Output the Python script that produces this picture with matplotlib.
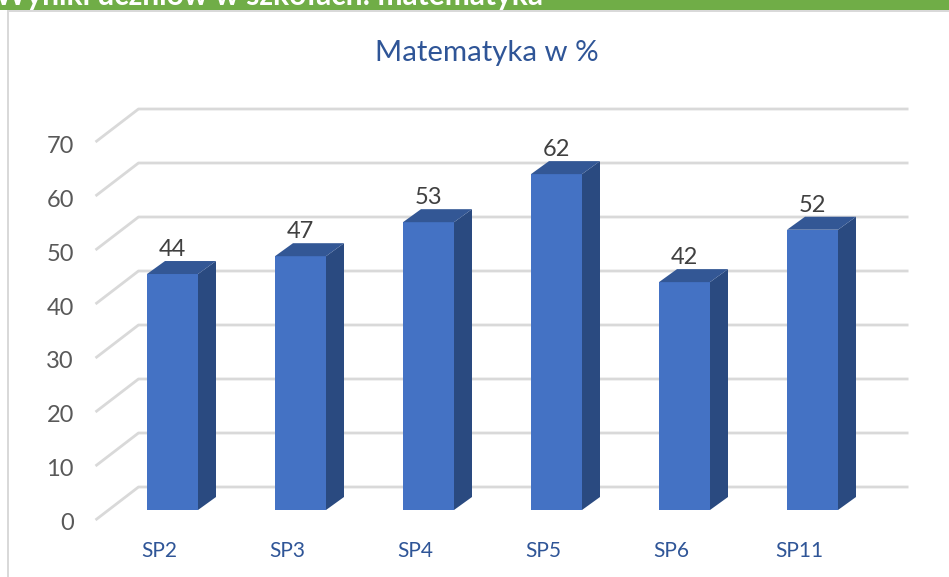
import matplotlib
matplotlib.use("Agg")
import matplotlib.pyplot as plt
from matplotlib.patches import Polygon, Rectangle

plt.rcParams['font.family'] = ['Lato', 'DejaVu Sans']

categories = ["SP2", "SP3", "SP4", "SP5", "SP6", "SP11"]
values = [43.7, 47.0, 53.3, 62.2, 42.2, 51.9]
grid_values = [0, 10, 20, 30, 40, 50, 60, 70]
title = "Matematyka w %"
banner = "Wyniki uczniów w szkołach: matematyka"

# one pixel-sized axes, x in category steps, y in percent at the bar front
W, H = 949, 577
fig = plt.figure(figsize=(W / 100, H / 100), dpi=100)
ax = fig.add_axes([0, 0, 1, 1])
step = 128.0
unit = 5.4
ax.set_xlim(-172.5 / step, (W - 172.5) / step)
ax.set_ylim((510 - H) / unit, 510 / unit)
ax.axis("off")

bar_w = 51 / step
dx, dy = 18 / step, 13 / unit

# gridlines with the slanted part on the left side wall
for g in grid_values:
    ax.plot([-77 / step, -34 / step, 736 / step],
            [g - 10 / unit, g + 23 / unit, g + 23 / unit],
            color="#d9d9d9", lw=2, zorder=1, solid_capstyle="butt")
    ax.text(-98.5 / step, g * 0.995 - 13 / unit, str(g), ha="right", va="center",
            fontsize=17, color="#595959")

# bars: front, side and top faces
for i, v in enumerate(values):
    x0, x1 = i - bar_w / 2, i + bar_w / 2
    ax.bar(i, v, width=bar_w, color="#4472c4", zorder=3)
    ax.add_patch(Polygon([(x1, 0), (x1 + dx, dy), (x1 + dx, v + dy), (x1, v)],
                         color="#2a4a80", lw=0, zorder=3))
    ax.add_patch(Polygon([(x0, v), (x0 + dx, v + dy), (x1 + dx, v + dy), (x1, v)],
                         color="#335795", lw=0, zorder=3))
    ax.text(i, v + dy + 11.5 / unit, str(round(v)), ha="center", va="center",
            fontsize=17, color="#404040", zorder=4)
    ax.text(i - 13 / step, -41 / unit, categories[i], ha="center", va="center",
            fontsize=15, color="#2f5597")

ax.text(314 / step, 457 / unit, title, ha="center", va="center",
        fontsize=21.2, color="#2f5597")

# page furniture: green band cut by the crop, thin frame under it
fig.patches.append(Rectangle((0, 1 - 10 / H), 1, 10 / H, transform=fig.transFigure,
                             color="#70ad47", lw=0, zorder=5))
fig.patches.append(Rectangle((7 / W, 0), 2 / W, 1 - 10 / H, transform=fig.transFigure,
                             color="#d9d9d9", lw=0, zorder=5))
fig.patches.append(Rectangle((7 / W, 1 - 12 / H), 1 - 7 / W, 2 / H, transform=fig.transFigure,
                             color="#d9d9d9", lw=0, zorder=5))
fig.text(-5 / W, 1 - 5 / H, banner, ha="left", va="baseline", fontsize=21.5,
         fontweight="bold", color="white", zorder=6)

fig.savefig("out.png", dpi=100)
